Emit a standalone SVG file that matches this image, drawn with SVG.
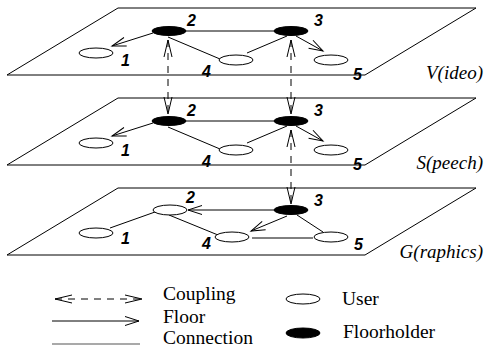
<svg xmlns="http://www.w3.org/2000/svg" width="484" height="350" viewBox="0 0 484 350">
<style>
.plane{fill:none;stroke:#000;stroke-width:1}
.e{stroke:#000;stroke-width:1;fill:none}
.user{fill:#fff;stroke:#000;stroke-width:1}
.fh{fill:#000;stroke:#000;stroke-width:1}
.num{font-family:"Liberation Sans",Arial,sans-serif;font-weight:bold;font-style:italic;font-size:16px;fill:#000}
.pl{font-family:"Liberation Serif","Times New Roman",serif;font-style:italic;font-size:19px;fill:#000}
.lg{font-family:"Liberation Serif","Times New Roman",serif;font-size:19.5px;fill:#000}
.cp{stroke:#000;stroke-width:1;fill:none;stroke-dasharray:7,6}
</style>
<defs>
<marker id="arr" markerUnits="userSpaceOnUse" markerWidth="30" markerHeight="30" viewBox="-20 -10 30 20" refX="0" refY="0" orient="auto">
<path d="M-14,-4.5 L0,0 L-14,4.5" fill="none" stroke="#000" stroke-width="1"/>
</marker>
<marker id="cpl" markerUnits="userSpaceOnUse" markerWidth="30" markerHeight="30" viewBox="-20 -10 30 20" refX="0" refY="0" orient="auto-start-reverse">
<path d="M-17,-4 L0,0 L-17,4" fill="none" stroke="#000" stroke-width="1"/>
</marker>
</defs>

<g id="planes">
<polygon class="plane" points="118,8 476,8 365,75 7,75"/>
<polygon class="plane" points="118,98 476,98 365,165 7,165"/>
<polygon class="plane" points="118,188 476,188 365,255 7,255"/>
<text class="pl" x="483" y="79" text-anchor="end">V(ideo)</text>
<text class="pl" x="483" y="169" text-anchor="end">S(peech)</text>
<text class="pl" x="483" y="258" text-anchor="end">G(raphics)</text>
</g>

<g id="connectors">
<!-- Video -->
<line class="e" x1="153" y1="33" x2="112" y2="46" marker-end="url(#arr)"/>
<line class="e" x1="186" y1="31" x2="274" y2="31"/>
<line class="e" x1="168" y1="37" x2="220" y2="59"/>
<line class="e" x1="247" y1="53" x2="287" y2="36"/>
<line class="e" x1="296" y1="36" x2="323" y2="51" marker-end="url(#arr)"/>
<!-- Speech -->
<line class="e" x1="153" y1="123" x2="112" y2="136" marker-end="url(#arr)"/>
<line class="e" x1="186" y1="121" x2="274" y2="121"/>
<line class="e" x1="168" y1="127" x2="220" y2="149"/>
<line class="e" x1="247" y1="143" x2="287" y2="126"/>
<line class="e" x1="296" y1="126" x2="323" y2="141" marker-end="url(#arr)"/>
<!-- Graphics -->
<line class="e" x1="274" y1="210" x2="188" y2="210" marker-end="url(#arr)"/>
<line class="e" x1="110" y1="228" x2="155" y2="212"/>
<line class="e" x1="169" y1="215" x2="218" y2="235"/>
<line class="e" x1="287" y1="216" x2="251" y2="231" marker-end="url(#arr)"/>
<line class="e" x1="297" y1="215" x2="323" y2="232"/>
<line class="e" x1="252" y1="238" x2="313" y2="238"/>
<!-- Coupling -->
<line class="cp" x1="168" y1="40" x2="168" y2="114" marker-start="url(#cpl)" marker-end="url(#cpl)"/>
<line class="cp" x1="291" y1="40" x2="291" y2="114" marker-start="url(#cpl)" marker-end="url(#cpl)"/>
<line class="cp" x1="291" y1="130" x2="291" y2="204" marker-start="url(#cpl)" marker-end="url(#cpl)"/>
</g>

<g id="v1"><ellipse class="user" cx="96" cy="53" rx="17" ry="5"/><text class="num" x="121" y="66">1</text></g>
<g id="v2"><ellipse class="fh" cx="169" cy="31" rx="17" ry="4.5"/><text class="num" x="187" y="26">2</text></g>
<g id="v3"><ellipse class="fh" cx="291" cy="31" rx="17" ry="4.5"/><text class="num" x="314" y="26">3</text></g>
<g id="v4"><ellipse class="user" cx="236" cy="60" rx="17" ry="5"/><text class="num" x="202" y="77">4</text></g>
<g id="v5"><ellipse class="user" cx="331" cy="60" rx="17" ry="5"/><text class="num" x="353" y="80">5</text></g>

<g id="s1"><ellipse class="user" cx="96" cy="143" rx="17" ry="5"/><text class="num" x="121" y="156">1</text></g>
<g id="s2"><ellipse class="fh" cx="169" cy="121" rx="17" ry="4.5"/><text class="num" x="187" y="116">2</text></g>
<g id="s3"><ellipse class="fh" cx="291" cy="121" rx="17" ry="4.5"/><text class="num" x="314" y="116">3</text></g>
<g id="s4"><ellipse class="user" cx="236" cy="150" rx="17" ry="5"/><text class="num" x="202" y="167">4</text></g>
<g id="s5"><ellipse class="user" cx="331" cy="150" rx="17" ry="5"/><text class="num" x="353" y="170">5</text></g>

<g id="g1"><ellipse class="user" cx="96" cy="233" rx="17" ry="5"/><text class="num" x="121" y="244">1</text></g>
<g id="g2"><ellipse class="user" cx="170" cy="210" rx="17" ry="5"/><text class="num" x="186" y="203">2</text></g>
<g id="g3"><ellipse class="fh" cx="291" cy="210" rx="17" ry="4.5"/><text class="num" x="314" y="206">3</text></g>
<g id="g4"><ellipse class="user" cx="232" cy="237" rx="17" ry="5"/><text class="num" x="202" y="249">4</text></g>
<g id="g5"><ellipse class="user" cx="331" cy="237" rx="17" ry="5"/><text class="num" x="354" y="250">5</text></g>

<g id="legend">
<line class="cp" x1="55" y1="299" x2="142" y2="299" marker-start="url(#cpl)" marker-end="url(#cpl)"/>
<line class="e" x1="52" y1="321" x2="139" y2="321" marker-end="url(#arr)"/>
<line x1="52" y1="344" x2="140" y2="344" stroke="#555" stroke-width="1.2"/>
<text class="lg" x="163" y="300">Coupling</text>
<text class="lg" x="163" y="323">Floor</text>
<text class="lg" x="163" y="344">Connection</text>
<ellipse class="user" cx="303" cy="299" rx="17" ry="5"/>
<ellipse class="fh" cx="303" cy="333" rx="17" ry="5"/>
<text class="lg" x="342" y="305">User</text>
<text class="lg" x="343" y="338">Floorholder</text>
</g>
</svg>
